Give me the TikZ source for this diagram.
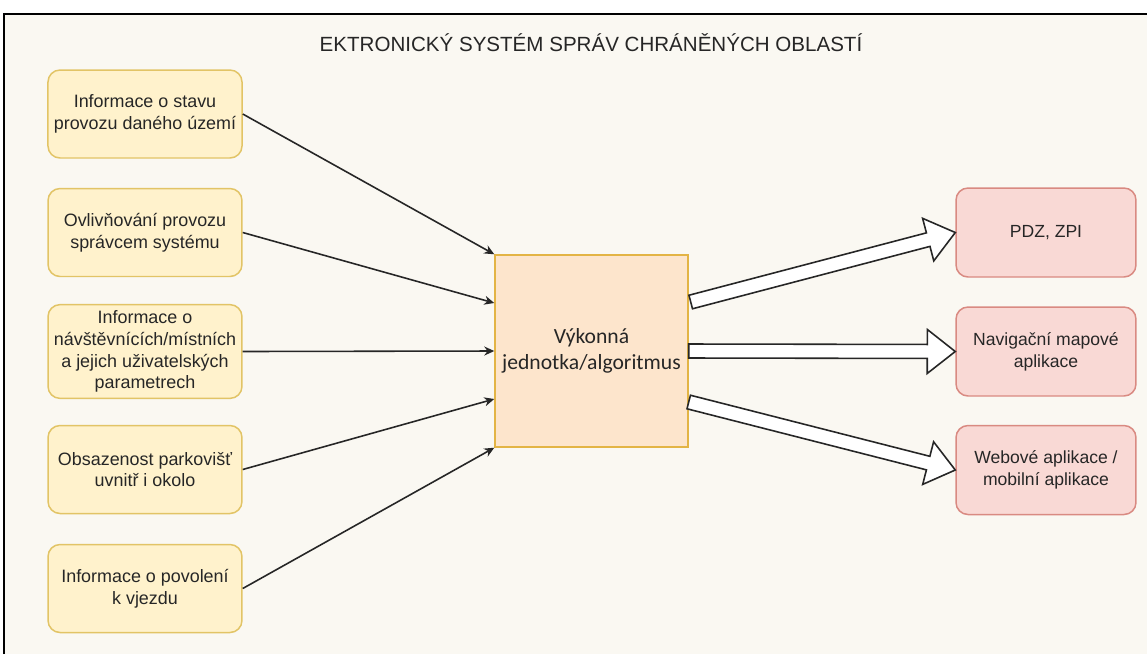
\documentclass[tikz,border=0pt]{standalone}
\usepackage{fontspec}
\setmainfont{Liberation Sans}
\newfontfamily\calfont{Carlito}
\usepackage{xcolor}
\usepackage{tikz}
\usetikzlibrary{calc,arrows.meta}

\definecolor{pagebg}{HTML}{FAF8F2}
\definecolor{infill}{HTML}{FFF2CC}
\definecolor{inline}{HTML}{E2C466}
\definecolor{cenfill}{HTML}{FDE5CC}
\definecolor{cenline}{HTML}{E3B445}
\definecolor{outfill}{HTML}{F9D9D5}
\definecolor{outline}{HTML}{D98A82}
\definecolor{ink}{HTML}{262626}

% hollow block arrow from #1 to #2
\newcommand{\hollowarrow}[2]{%
  \coordinate (hb) at ($(#2)!0.56cm!(#1)$);
  \draw[fatarrow] ($(#1)!0.14cm!90:(#2)$) -- ($(hb)!0.14cm!-90:(#1)$)
    -- ($(hb)!0.44cm!-90:(#1)$) -- (#2) -- ($(hb)!0.44cm!90:(#1)$)
    -- ($(hb)!0.14cm!90:(#1)$) -- ($(#1)!0.14cm!-90:(#2)$) -- cycle;
}

\begin{document}
\begin{tikzpicture}[x=0.02cm,y=-0.02cm]
\tikzstyle{inbox} = [draw=inline, fill=infill, line width=0.85pt, rounded corners=0.24cm,
  minimum width=3.88cm, minimum height=1.76cm, align=center, text=ink,
  font=\fontsize{10.2}{12.4}\selectfont]
\tikzstyle{outbox} = [draw=outline, fill=outfill, line width=0.85pt, rounded corners=0.24cm,
  minimum width=3.6cm, minimum height=1.78cm, align=center, text=ink,
  font=\fontsize{10}{12.4}\selectfont]
\tikzstyle{unit} = [draw=cenline, fill=cenfill, line width=0.85pt,
  minimum width=3.86cm, minimum height=3.84cm, align=center, text=ink,
  font=\calfont\fontsize{12.3}{14.7}\selectfont]
\tikzstyle{feed} = [draw=ink, line width=0.9pt, -{Stealth[length=2mm,width=1.8mm]}]
\tikzstyle{fatarrow} = [draw=ink, fill=white, line width=0.9pt, line join=miter]
%
\useasboundingbox (0,0) rectangle (1147,654);
\fill[white] (0,0) rectangle (1147,654);
\fill[pagebg] (4,14) rectangle (1147,654);
\draw[black, line width=1.3pt] (4,654) -- (4,14) -- (1147,14);

\node[text=ink, font=\fontsize{11.7}{13.5}\selectfont] (title) at (591,43)
  {EKTRONICKÝ SYSTÉM SPRÁV CHRÁNĚNÝCH OBLASTÍ};

\node[inbox] (stav) at (145,114) {Informace o stavu\\provozu daného území};
\node[inbox] (sprava) at (145,232.5) {Ovlivňování provozu\\správcem systému};
\node[inbox] (navst) at (145,351.5) {Informace o\\návštěvnících/místních\\a jejich uživatelských\\parametrech};
\node[inbox] (park) at (145,469.5) {Obsazenost parkovišť\\uvnitř i okolo};
\node[inbox] (vjezd) at (145,588.5) {Informace o povolení\\k vjezdu};

\node[unit] (jednotka) at (591.5,351) {Výkonná\\jednotka/algoritmus};

\node[outbox] (pdz) at (1046,232.5) {PDZ, ZPI};
\node[outbox] (navig) at (1046,351.5) {Navigační mapové\\aplikace};
\node[outbox] (web) at (1046,470) {Webové aplikace /\\mobilní aplikace};

% vstupy
\draw[feed] (stav.east) -- (jednotka.north west);
\draw[feed] (sprava.east) -- ($(jednotka.west)+(0,-48)$);
\draw[feed] (navst.east) -- (jednotka.west);
\draw[feed] (park.east) -- ($(jednotka.west)+(0,48)$);
\draw[feed] (vjezd.east) -- (jednotka.south west);

% vystupy
\coordinate (v1) at ($(jednotka.east)+(2,-49)$);
\coordinate (v2) at ($(jednotka.east)+(0,0)$);
\coordinate (v3) at ($(jednotka.east)+(0,51)$);
\hollowarrow{v1}{pdz.west}
\hollowarrow{v2}{navig.west}
\hollowarrow{v3}{web.west}
\end{tikzpicture}
\end{document}
